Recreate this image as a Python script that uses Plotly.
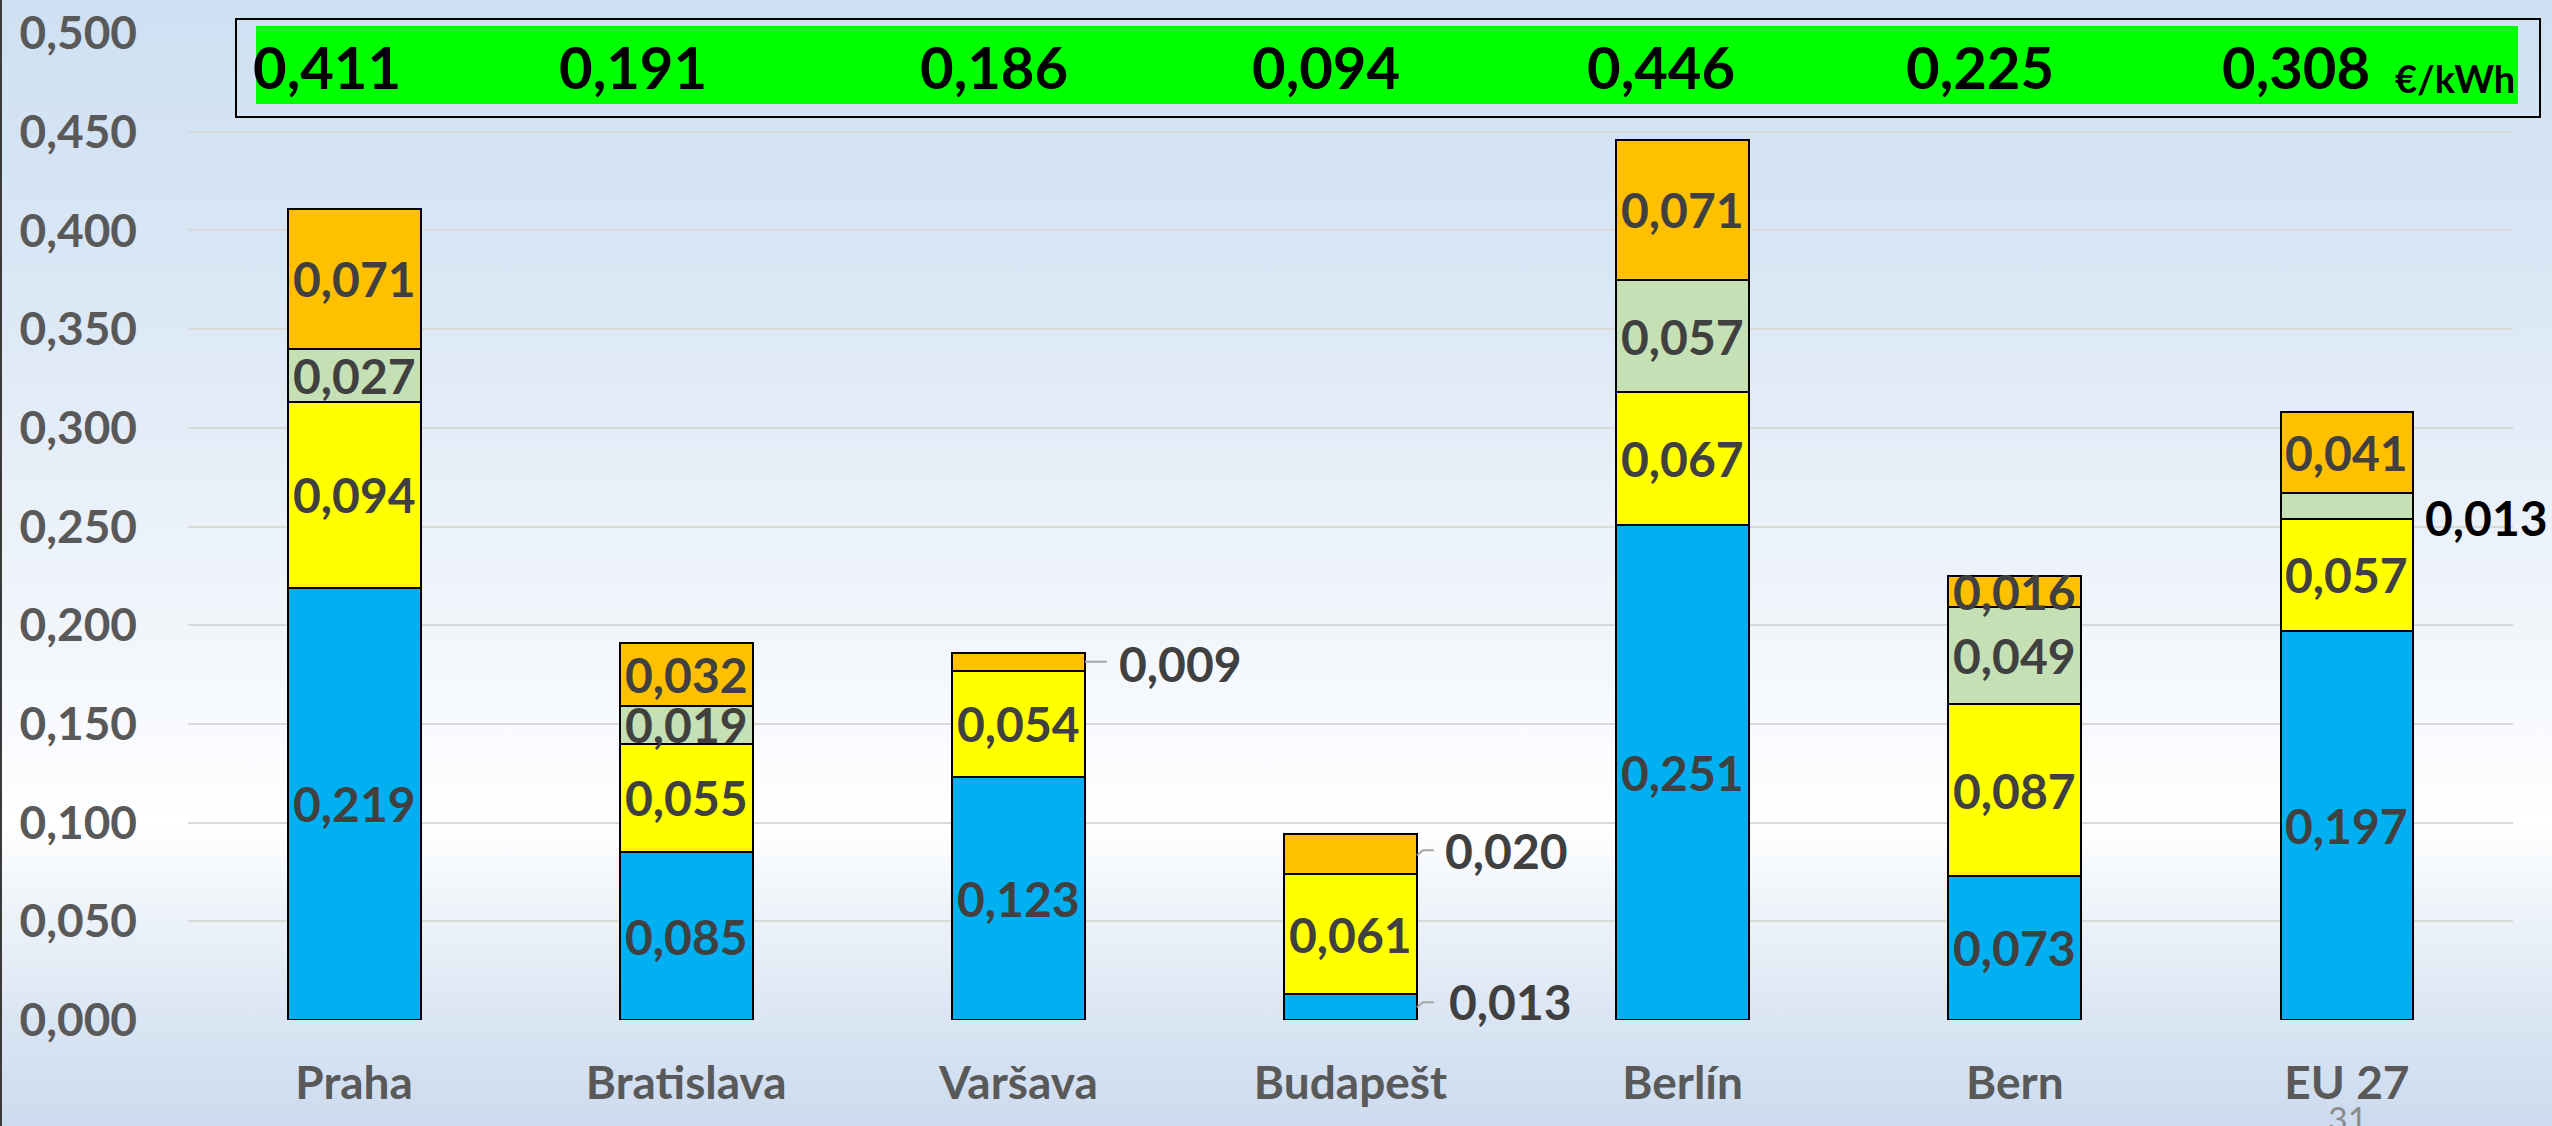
import base64
import plotly.graph_objects as go

# ---------------- data ----------------
categories = ["Praha", "Bratislava", "Varšava", "Budapešt", "Berlín", "Bern", "EU 27"]
series_names = ["složka 1", "složka 2", "složka 3", "složka 4"]
blue = [0.219, 0.085, 0.123, 0.013, 0.251, 0.073, 0.197]
yellow = [0.094, 0.055, 0.054, 0.061, 0.067, 0.087, 0.057]
green = [0.027, 0.019, None, None, 0.057, 0.049, 0.013]
orange = [0.071, 0.032, 0.009, 0.020, 0.071, 0.016, 0.041]
totals = [0.411, 0.191, 0.186, 0.094, 0.446, 0.225, 0.308]
unit = "€/kWh"
y_ticks = [0.0, 0.05, 0.10, 0.15, 0.20, 0.25, 0.30, 0.35, 0.40, 0.45, 0.50]

# ---------------- styling ----------------
W, H = 2552, 1126
ML, MR, MT, MB = 188, 39, 33, 106
PW, PH = W - ML - MR, H - MT - MB
FONT = "Lato, 'Open Sans', sans-serif"
colors = ["#00B0F0", "#FFFF00", "#C5E0B4", "#FFC000"]
BAR_W = 0.4
LBL = 48


def px_x(p):
    return (p - ML) / PW


def px_y(p):
    return (H - MB - p) / PH


def fmt(v):
    return f"{v:.3f}".replace(".", ",")


series = [blue, yellow, green, orange]

fig = go.Figure()
for name, vals, col in zip(series_names, series, colors):
    fig.add_trace(go.Bar(
        x=categories, y=vals, name=name, width=BAR_W,
        marker=dict(color=col, line=dict(color="#000000", width=2)),
        hoverinfo="x+y", showlegend=False,
    ))

# labels placed outside the bars (category index, series index) -> style
outside = {
    (2, 3): dict(xshift=32, yshift=-2, color="#404040", leader=[(0, 0), (22, 0)]),
    (3, 3): dict(xshift=26, yshift=4, color="#404040", leader=[(0, -1), (6, 4), (17, 4)]),
    (3, 0): dict(xshift=30, yshift=6, color="#404040", leader=[(0, 0), (6, 5), (17, 5)]),
    (6, 2): dict(xshift=10, yshift=-12, color="#000000", leader=None),
}

annotations = []
shapes = []
for i, cat in enumerate(categories):
    base = 0.0
    for s, vals in enumerate(series):
        v = vals[i]
        if v is None:
            continue
        mid = base + v / 2
        if (i, s) in outside:
            o = outside[(i, s)]
            annotations.append(dict(
                x=i + BAR_W / 2, y=mid, xref="x", yref="y", text=fmt(v),
                showarrow=False, xanchor="left", yanchor="middle",
                xshift=o["xshift"], yshift=o["yshift"],
                font=dict(family=FONT, size=LBL, color=o["color"], weight="bold"),
            ))
            if o["leader"]:
                pts = o["leader"]
                path = "M" + " L".join(f"{a},{b}" for a, b in pts)
                shapes.append(dict(
                    type="path", xref="x", yref="y", xsizemode="pixel", ysizemode="pixel",
                    xanchor=i + BAR_W / 2, yanchor=mid, path=path,
                    line=dict(color="#A6A6A6", width=2), layer="above",
                ))
        else:
            annotations.append(dict(
                x=cat, y=mid, xref="x", yref="y", text=fmt(v), showarrow=False,
                xanchor="center", yanchor="middle",
                font=dict(family=FONT, size=LBL, color="#404040", weight="bold"),
            ))
        base += v

# banner with totals
shapes.append(dict(type="rect", xref="paper", yref="paper",
                   x0=px_x(236), x1=px_x(2540), y0=px_y(117), y1=px_y(19),
                   line=dict(color="#000000", width=2), fillcolor="rgba(0,0,0,0)", layer="above"))
shapes.append(dict(type="rect", xref="paper", yref="paper",
                   x0=px_x(256), x1=px_x(2518), y0=px_y(104), y1=px_y(26),
                   line=dict(width=0), fillcolor="#00FF00", layer="above"))
banner_shift = [-27, -53, -24, -25, -22, -35, -51]
for i, cat in enumerate(categories):
    annotations.append(dict(
        x=cat, y=px_y(67), xref="x", yref="paper", text=fmt(totals[i]),
        showarrow=False, xanchor="center", yanchor="middle", xshift=banner_shift[i],
        font=dict(family=FONT, size=58, color="#000000", weight="bold"),
    ))
annotations.append(dict(
    x=px_x(2517), y=px_y(78), xref="paper", yref="paper", text=unit,
    showarrow=False, xanchor="right", yanchor="middle",
    font=dict(family=FONT, size=38, color="#000000", weight="bold"),
))

# page number
annotations.append(dict(
    x=px_x(2347), y=px_y(1096), xref="paper", yref="paper", text="31",
    showarrow=False, xanchor="center", yanchor="top",
    font=dict(family=FONT, size=34, color="#8C8C8C"),
))

# slide left border
shapes.append(dict(type="line", xref="paper", yref="paper",
                   x0=px_x(1), x1=px_x(1), y0=px_y(H), y1=px_y(0),
                   line=dict(color="#3A3A3A", width=2), layer="above"))

# gradient background
svg = (
    f'<svg xmlns="http://www.w3.org/2000/svg" width="{W}" height="{H}" '
    f'viewBox="0 0 {W} {H}" preserveAspectRatio="none">'
    '<defs><linearGradient id="g" x1="0" y1="0" x2="0" y2="1">'
    '<stop offset="0" stop-color="#CEE0F2"/>'
    '<stop offset="0.25" stop-color="#DAE7F5"/>'
    '<stop offset="0.5" stop-color="#EDF3FA"/>'
    '<stop offset="0.69" stop-color="#FBFCFE"/>'
    '<stop offset="0.73" stop-color="#FFFFFF"/>'
    '<stop offset="0.80" stop-color="#EFF4FA"/>'
    '<stop offset="0.91" stop-color="#DAE5F3"/>'
    '<stop offset="1" stop-color="#CCDBEE"/>'
    '</linearGradient></defs>'
    f'<rect x="0" y="0" width="{W}" height="{H}" fill="url(#g)"/></svg>'
)
src = "data:image/svg+xml;base64," + base64.b64encode(svg.encode("utf-8")).decode("ascii")

fig.update_layout(
    width=W, height=H, autosize=False,
    margin=dict(l=ML, r=MR, t=MT, b=MB, pad=0, autoexpand=False),
    barmode="stack", bargap=0.6,
    separators=",.",
    paper_bgcolor="#E6EEF8", plot_bgcolor="rgba(0,0,0,0)",
    font=dict(family=FONT),
    images=[dict(source=src, xref="paper", yref="paper", x=px_x(0), y=px_y(0),
                  sizex=W / PW, sizey=H / PH, xanchor="left", yanchor="top",
                  sizing="stretch", layer="below")],
    xaxis=dict(
        type="category", range=[-0.5, len(categories) - 0.5],
        showgrid=False, showline=False, zeroline=False, automargin=False,
        ticks="", ticklabelstandoff=32,
        tickfont=dict(family=FONT, size=46, color="#595959", weight="bold"),
    ),
    yaxis=dict(
        range=[0, 0.5], tickvals=y_ticks, tickformat=".3f", automargin=False,
        showgrid=True, gridcolor="#D9D9D9", gridwidth=2,
        zeroline=False, showline=False, ticks="", ticklabelstandoff=50,
        tickfont=dict(family=FONT, size=46, color="#595959", weight="bold"),
    ),
    shapes=shapes, annotations=annotations,
)

fig.write_html("out.html", config={"displayModeBar": False},
               post_script="document.body.style.margin='0';")
